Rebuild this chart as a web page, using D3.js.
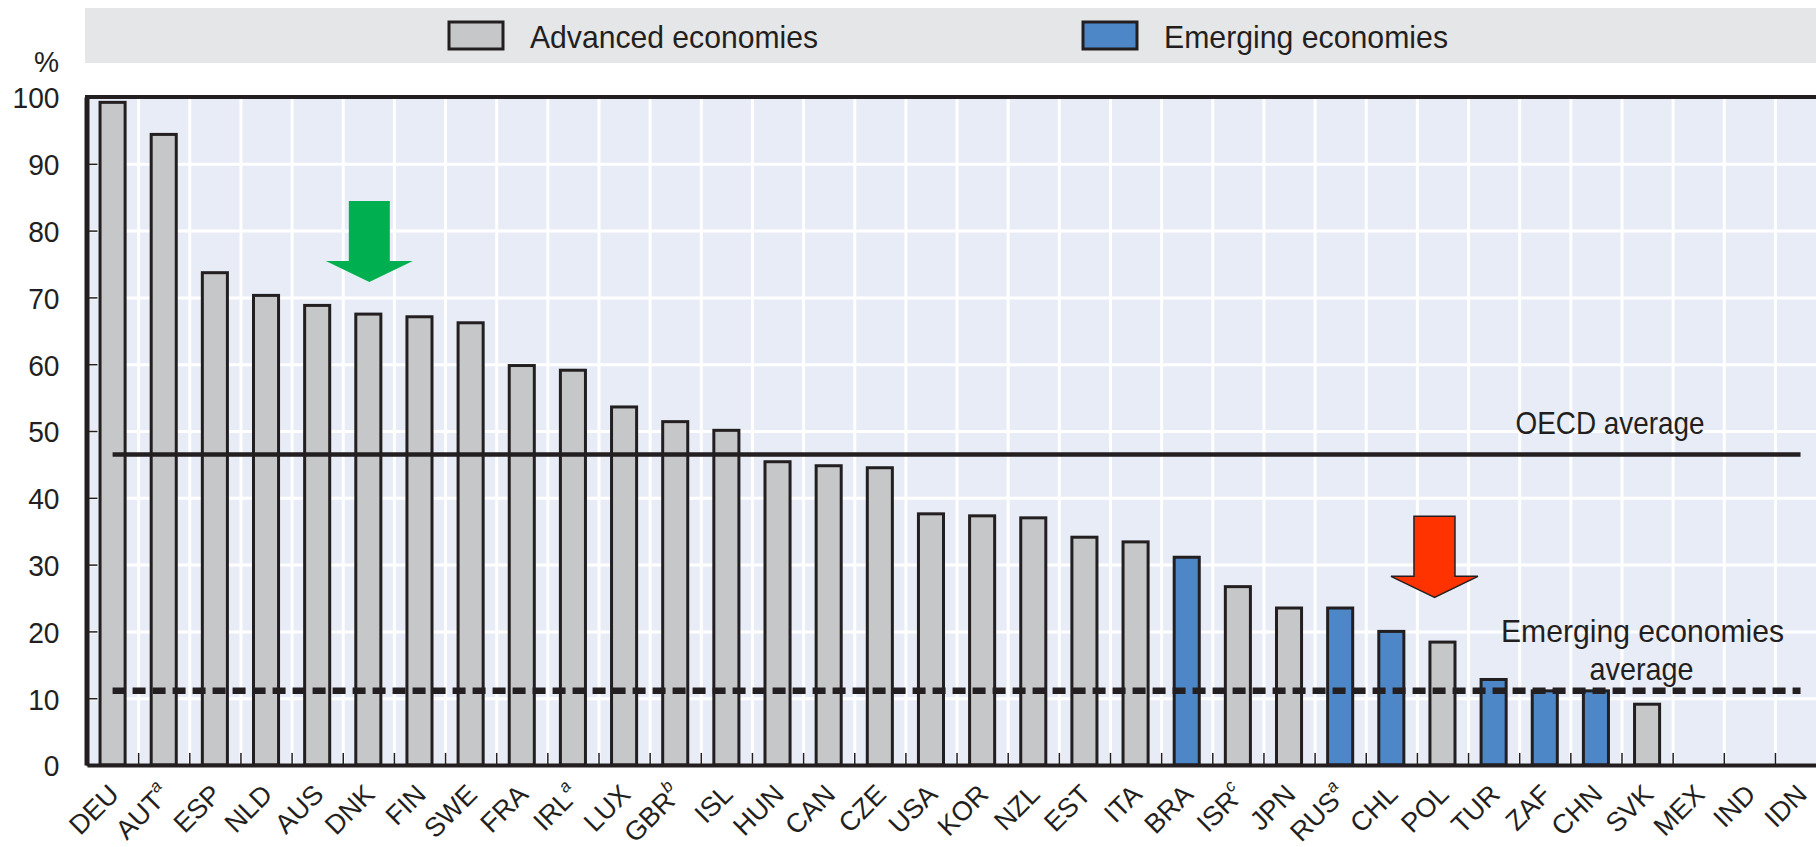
<!DOCTYPE html>
<html>
<head>
<meta charset="utf-8">
<script src="https://cdn.jsdelivr.net/npm/d3@7"></script>
<style>
body { margin: 0; background: #fff; }
svg { display: block; }
text { font-family: "Liberation Sans", Arial, sans-serif; fill: #231f20; }
</style>
</head>
<body>
<div id="chart"></div>
<script>
// data
var countries = ["DEU","AUT","ESP","NLD","AUS","DNK","FIN","SWE","FRA","IRL","LUX","GBR","ISL","HUN","CAN","CZE","USA","KOR","NZL","EST","ITA","BRA","ISR","JPN","RUS","CHL","POL","TUR","ZAF","CHN","SVK","MEX","IND","IDN"];
var notes = ["","a","","","","","","","","a","","b","","","","","","","","","","","c","","a","","","","","","","","",""];
var groups = ["adv","adv","adv","adv","adv","adv","adv","adv","adv","adv","adv","adv","adv","adv","adv","adv","adv","adv","adv","adv","adv","emg","adv","adv","emg","emg","adv","emg","emg","emg","adv","emg","emg","emg"];
var values = [99.2,94.4,73.7,70.3,68.8,67.5,67.1,66.2,59.8,59.1,53.6,51.4,50.1,45.4,44.8,44.5,37.6,37.3,37.0,34.1,33.4,31.1,26.7,23.5,23.5,20.0,18.4,12.8,11.1,11.1,9.1,null,null,null];
var y_ticks = [0,10,20,30,40,50,60,70,80,90,100];
var legend_labels = ["Advanced economies","Emerging economies"];
var legend_groups = ["adv","emg"];
var oecd_avg = 46.5;
var emerging_avg = 11.1;
var arrow_targets = ["DNK","POL"];
var arrow_values = [72.3, 25.1];

var W = 1816, H = 847;
var ink = "#231f20";

var color = d3.scaleOrdinal().domain(["adv","emg"]).range(["#c6c7c9","#4d87c7"]);

var svg = d3.select("#chart").append("svg")
  .attr("width", W)
  .attr("height", H);

var x = d3.scaleBand()
  .domain(countries)
  .range([87, 87 + countries.length * 51.15])
  .paddingInner(0.51)
  .paddingOuter(0.255);
// band edges, for the ticks and the vertical grid
var xb = d3.scaleLinear().domain([0, countries.length]).range(x.range());
var y = d3.scaleLinear().domain([0, 100]).range([765, 97]);

var x0 = x.range()[0], x1 = x.range()[1];
var bw = x.bandwidth();

// legend band
svg.append("rect")
  .attr("x", 85).attr("y", 8)
  .attr("width", W - 85).attr("height", 55)
  .attr("fill", "#e5e6e8");

var leg = svg.selectAll(".leg")
  .data(legend_labels)
  .enter().append("g")
  .attr("class", "leg")
  .attr("transform", function(d, i) { return "translate(" + [449, 1083][i] + ",0)"; });

leg.append("rect")
  .attr("x", 0).attr("y", 22)
  .attr("width", 54).attr("height", 27)
  .attr("fill", function(d, i) { return color(legend_groups[i]); })
  .attr("stroke", ink)
  .attr("stroke-width", 3);

leg.append("text")
  .attr("x", 81).attr("y", 48)
  .attr("font-size", 32)
  .attr("textLength", function(d, i) { return [288, 284][i]; })
  .attr("lengthAdjust", "spacingAndGlyphs")
  .text(function(d) { return d; });

// plot background
svg.append("rect")
  .attr("x", x0).attr("y", y(100))
  .attr("width", x1 - x0).attr("height", y(0) - y(100))
  .attr("fill", "#e8ecf6");

// grid
var gy = svg.append("g")
  .attr("transform", "translate(" + x0 + ",0)")
  .call(d3.axisLeft(y).tickValues(y_ticks.slice(1, -1)).tickSize(-(x1 - x0)).tickFormat(""));
gy.select(".domain").remove();
gy.selectAll("line").attr("stroke", "#fff").attr("stroke-width", 3);

var gx = svg.append("g")
  .attr("transform", "translate(0," + y(0) + ")")
  .call(d3.axisBottom(xb).tickValues(d3.range(1, countries.length)).tickSize(-(y(0) - y(100))).tickFormat(""));
gx.select(".domain").remove();
gx.selectAll("line").attr("stroke", "#fff").attr("stroke-width", 3);

// bars
svg.append("g")
  .selectAll("rect")
  .data(countries.filter(function(d, i) { return values[i] != null; }))
  .enter()
  .append("rect")
  .attr("x", function(d) { return x(d); })
  .attr("y", function(d) { return y(values[countries.indexOf(d)]); })
  .attr("width", bw)
  .attr("height", function(d) { return y(0) - y(values[countries.indexOf(d)]); })
  .attr("fill", function(d) { return color(groups[countries.indexOf(d)]); })
  .attr("stroke", ink)
  .attr("stroke-width", 3);

// y axis with inward ticks
var ya = svg.append("g")
  .attr("transform", "translate(" + 86.5 + ",0)")
  .call(d3.axisLeft(y).tickValues(y_ticks).tickSize(-11).tickSizeOuter(0));
ya.select(".domain").attr("stroke", ink).attr("stroke-width", 5);
ya.selectAll("line").attr("stroke", ink).attr("stroke-width", 1.5);
ya.selectAll("text")
  .attr("x", 0).attr("dy", "0.36em")
  .attr("font-size", 30)
  .attr("text-anchor", "end")
  .attr("fill", ink)
  .attr("transform", "translate(-27,0) scale(0.94,1)");

svg.append("text")
  .attr("transform", "translate(59,72) scale(0.94,1)")
  .attr("text-anchor", "end")
  .attr("font-size", 30)
  .text("%");

// x axis: ticks between bands
var xa = svg.append("g")
  .attr("transform", "translate(0," + y(0) + ")")
  .call(d3.axisBottom(xb).tickValues(d3.range(1, countries.length)).tickSize(-12).tickSizeOuter(0).tickFormat(""));
xa.select(".domain").attr("stroke", ink).attr("stroke-width", 4);
xa.selectAll("line").attr("stroke", ink).attr("stroke-width", 1.5);

// x axis labels
var xl = svg.append("g")
  .attr("transform", "translate(0," + y(0) + ")")
  .call(d3.axisBottom(x).tickSize(0));
xl.select(".domain").remove();
xl.selectAll("text")
  .attr("x", 0).attr("y", 0).attr("dy", 0)
  .attr("font-size", 27)
  .attr("fill", ink)
  .attr("text-anchor", "end")
  .attr("transform", "translate(8,31) rotate(-45)")
  .each(function(d, i) {
    if (notes[i]) {
      d3.select(this).append("tspan")
        .attr("dy", "-0.75em")
        .attr("font-size", 17)
        .attr("font-style", "italic")
        .text(notes[i]);
    }
  });

// top frame
svg.append("line")
  .attr("x1", x0 - 2).attr("x2", x1)
  .attr("y1", y(100)).attr("y2", y(100))
  .attr("stroke", ink).attr("stroke-width", 4);

// averages
var c_first = x(countries[0]) + bw / 2;
var c_last = x(countries[countries.length - 1]) + bw / 2;

svg.append("line")
  .attr("x1", c_first).attr("x2", c_last)
  .attr("y1", y(oecd_avg)).attr("y2", y(oecd_avg))
  .attr("stroke", ink).attr("stroke-width", 4.5);

svg.append("line")
  .attr("x1", c_first).attr("x2", c_last)
  .attr("y1", y(emerging_avg)).attr("y2", y(emerging_avg))
  .attr("stroke", ink).attr("stroke-width", 6.5)
  .attr("stroke-dasharray", "13,7");

svg.append("text")
  .attr("x", c_last - 96).attr("y", y(oecd_avg) - 20)
  .attr("text-anchor", "end")
  .attr("font-size", 32)
  .attr("textLength", 189)
  .attr("lengthAdjust", "spacingAndGlyphs")
  .text("OECD average");

svg.append("text")
  .attr("x", c_last - 158).attr("y", y(emerging_avg) - 49)
  .attr("text-anchor", "middle")
  .attr("font-size", 32)
  .attr("textLength", 283)
  .attr("lengthAdjust", "spacingAndGlyphs")
  .text("Emerging economies");

svg.append("text")
  .attr("x", c_last - 159).attr("y", y(emerging_avg) - 11)
  .attr("text-anchor", "middle")
  .attr("font-size", 32)
  .attr("textLength", 104)
  .attr("lengthAdjust", "spacingAndGlyphs")
  .text("average");

// arrows pointing at bars
function arrow_path() {
  return "M0,0 L-43.5,-21 L-20.5,-21 L-20.5,-81 L20.5,-81 L20.5,-21 L43.5,-21 Z";
}

svg.append("path")
  .attr("d", arrow_path())
  .attr("transform", "translate(" + (x(arrow_targets[0]) + bw / 2 + 1) + "," + y(arrow_values[0]) + ")")
  .attr("fill", "#00b050");

svg.append("path")
  .attr("d", arrow_path())
  .attr("transform", "translate(" + (x(arrow_targets[1]) + bw / 2 - 8) + "," + y(arrow_values[1]) + ")")
  .attr("fill", "#ff3300")
  .attr("stroke", ink)
  .attr("stroke-width", 1.5);
</script>
</body>
</html>
